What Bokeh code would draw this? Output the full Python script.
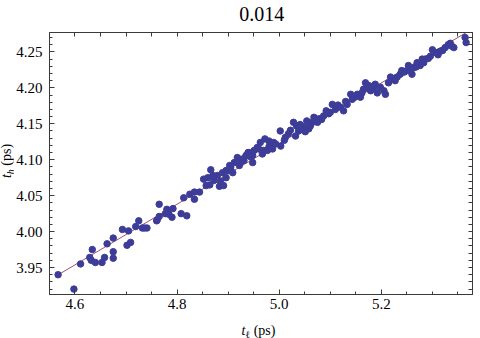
import numpy as np
from bokeh.plotting import figure
from bokeh.layouts import row, column
from bokeh.models import Range1d, LinearAxis, FixedTicker, PrintfTickFormatter, Div
from bokeh.embed import file_html
from bokeh.resources import INLINE

title_text = "0.014"
x_ticks = [4.6, 4.8, 5.0, 5.2]
y_ticks = [3.95, 4.00, 4.05, 4.10, 4.15, 4.20, 4.25]

t_l = [4.567, 4.598, 4.611, 4.629, 4.632, 4.634, 4.640, 4.653, 4.658, 4.663,
       4.675, 4.675, 4.675, 4.693, 4.702, 4.705, 4.709, 4.719, 4.725, 4.732,
       4.736, 4.741, 4.760, 4.761, 4.765, 4.765, 4.777, 4.780, 4.784, 4.790,
       4.792, 4.808, 4.813, 4.819, 4.825, 4.834, 4.834, 4.844, 4.852, 4.857,
       4.860, 4.864, 4.866, 4.872, 4.879, 4.883, 4.889, 4.891, 4.896, 4.896,
       4.901, 4.905, 4.909, 4.912, 4.918, 4.922, 4.928, 4.931, 4.935, 4.939,
       4.941, 4.948, 4.948, 4.951, 4.957, 4.960, 4.963, 4.967, 4.969, 4.972,
       4.977, 4.980, 4.980, 4.987, 4.989, 4.993, 5.002, 5.003, 5.012, 5.018,
       5.028, 5.032, 5.034, 5.038, 5.045, 5.048, 5.054, 5.058, 5.061, 5.065,
       5.068, 5.075, 5.078, 5.087, 5.097, 5.100, 5.104, 5.110, 5.120, 5.126,
       5.133, 5.140, 5.143, 5.153, 5.159, 5.165, 5.169, 5.172, 5.179, 5.185,
       5.192, 5.205, 5.208, 5.214, 5.221, 5.227, 5.237, 5.240, 5.250, 5.253,
       5.260, 5.263, 5.270, 5.276, 5.283, 5.286, 5.296, 5.300, 5.307, 5.315,
       5.325, 5.331, 5.338, 5.342, 5.364, 5.366,
       5.010, 5.022, 5.041, 5.051, 5.083, 5.092, 5.115, 5.130, 5.148, 5.162,
       5.176, 5.188, 5.198, 5.218, 5.231, 5.245, 5.258, 5.268, 5.280, 5.292,
       5.311, 5.320, 5.335, 4.870, 4.885, 4.903, 4.925, 4.944]
t_h = [3.940, 3.920, 3.955, 3.964, 3.960, 3.975, 3.957, 3.957, 3.964, 3.983,
       3.991, 3.972, 3.963, 4.003, 3.981, 4.001, 3.985, 4.007, 4.015, 4.005,
       4.005, 4.005, 4.015, 4.016, 4.038, 4.021, 4.025, 4.031, 4.024, 4.020,
       4.032, 4.025, 4.047, 4.022, 4.052, 4.045, 4.055, 4.055, 4.073, 4.064,
       4.075, 4.065, 4.086, 4.071, 4.078, 4.063, 4.082, 4.064, 4.075, 4.085,
       4.085, 4.089, 4.082, 4.096, 4.103, 4.092, 4.101, 4.099, 4.106, 4.110,
       4.110, 4.096, 4.106, 4.113, 4.117, 4.115, 4.124, 4.108, 4.113, 4.129,
       4.113, 4.118, 4.126, 4.115, 4.124, 4.122, 4.140, 4.119, 4.131, 4.136,
       4.152, 4.133, 4.147, 4.140, 4.143, 4.146, 4.154, 4.143, 4.147, 4.152,
       4.159, 4.152, 4.157, 4.161, 4.164, 4.166, 4.177, 4.170, 4.173, 4.168,
       4.177, 4.191, 4.184, 4.191, 4.187, 4.198, 4.207, 4.200, 4.196, 4.200,
       4.193, 4.196, 4.191, 4.207, 4.212, 4.210, 4.219, 4.224, 4.224, 4.231,
       4.219, 4.228, 4.235, 4.231, 4.235, 4.240, 4.244, 4.253, 4.249, 4.251,
       4.256, 4.260, 4.258, 4.256, 4.270, 4.263,
       4.127, 4.141, 4.149, 4.139, 4.156, 4.168, 4.176, 4.181, 4.187, 4.193,
       4.203, 4.205, 4.201, 4.215, 4.215, 4.222, 4.226, 4.229, 4.240, 4.241,
       4.246, 4.252, 4.262, 4.078, 4.070, 4.092, 4.097, 4.104]

# least-squares fit line over the data range
slope, icept = np.polyfit(t_l, t_h, 1)
fit_x = [min(t_l), max(t_l)]
fit_y = [icept + slope * v for v in fit_x]

FONT = "Liberation Serif"
FRAME = "#3a3a3a"
YLAB_W = 13

p = figure(width=480 - YLAB_W, height=289, output_backend="svg", toolbar_location=None,
           x_range=Range1d(4.5502, 5.3785), y_range=Range1d(3.9125, 4.277),
           min_border_left=48 - YLAB_W, min_border_right=8, min_border_top=3,
           min_border_bottom=24, outline_line_color=FRAME,
           background_fill_color="white", border_fill_color="white")
p.grid.visible = False

p.line(fit_x, fit_y, line_color="#A0526E", line_width=1)
p.scatter(t_l, t_h, size=6.5, fill_color="#3D3D99", line_color="#3D3D99")

x_minor = [round(v, 3) for v in np.arange(4.55, 5.38, 0.05)]
y_minor = [round(v, 3) for v in np.arange(3.92, 4.28, 0.01)]

def style(ax, ticks, minor, fmt, standoff):
    ax.ticker = FixedTicker(ticks=ticks, minor_ticks=minor)
    ax.formatter = PrintfTickFormatter(format=fmt)
    ax.axis_line_color = FRAME
    ax.major_tick_line_color = FRAME
    ax.minor_tick_line_color = FRAME
    ax.major_tick_in = 5
    ax.major_tick_out = 0
    ax.minor_tick_in = 3
    ax.minor_tick_out = 0
    ax.major_label_text_font = FONT
    ax.major_label_text_font_size = "15px"
    ax.major_label_text_color = "black"
    ax.major_label_standoff = standoff

style(p.xaxis[0], x_ticks, x_minor, "%.1f", 4)
style(p.yaxis[0], y_ticks, y_minor, "%.2f", 7)

# unlabeled frame sides (top / right) carrying only tick marks
top = LinearAxis(ticker=FixedTicker(ticks=[], minor_ticks=x_minor))
right = LinearAxis(ticker=FixedTicker(ticks=[], minor_ticks=y_minor))
for ax in (top, right):
    ax.axis_line_color = FRAME
    ax.minor_tick_line_color = FRAME
    ax.minor_tick_in = 4
    ax.minor_tick_out = 0
    ax.major_tick_out = 3
    ax.major_label_standoff = 0
p.add_layout(top, "above")
p.add_layout(right, "right")

base = f"font-family:'{FONT}';color:black;line-height:1;white-space:nowrap;position:absolute;"
W = 480 - YLAB_W

title_div = Div(width=W, height=29, margin=0, text=(
    f'<div style="position:relative;width:{W}px;height:29px;">'
    f'<div style="{base}font-size:20px;left:{261.7 - YLAB_W}px;top:4px;transform:translateX(-50%);">'
    f'{title_text}</div></div>'))

xlab_div = Div(width=W, height=20, margin=0, text=(
    f'<div style="position:relative;width:{W}px;height:20px;">'
    f'<div style="{base}font-size:14px;left:{258.5 - YLAB_W}px;top:5.5px;transform:translateX(-50%);">'
    f'<i>t</i><span style="font-size:10px;position:relative;top:3px;">&#8467;</span> (ps)'
    f'</div></div>'))

ylab_div = Div(width=YLAB_W, height=338, margin=0, text=(
    f'<div style="position:relative;width:{YLAB_W}px;height:338px;">'
    f'<div style="{base}font-size:14px;left:7px;top:161px;'
    f'transform:translate(-50%,-50%) rotate(-90deg);">'
    f'<i>t</i><span style="font-size:10px;font-style:italic;position:relative;top:3px;">h</span> (ps)'
    f'</div></div>'))

layout = row(ylab_div, column(title_div, p, xlab_div, spacing=0, margin=0),
             spacing=0, margin=0)

open("out.html", "w").write(file_html(layout, INLINE))
